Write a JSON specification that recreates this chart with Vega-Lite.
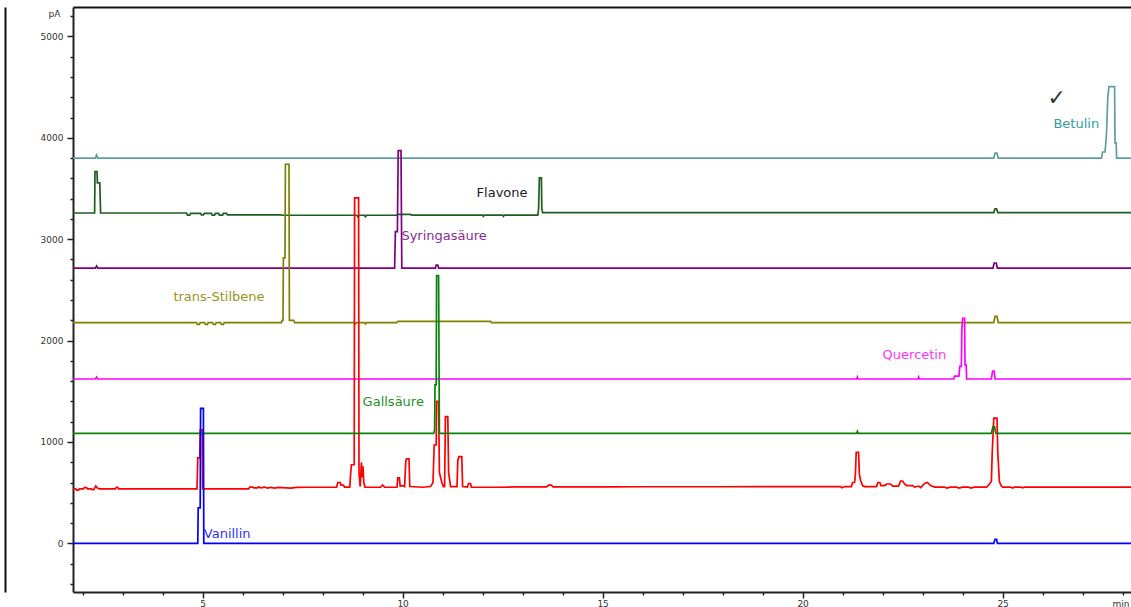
{
  "$schema": "https://vega.github.io/schema/vega-lite/v6.json",
  "width": 1058,
  "height": 585,
  "autosize": {"type": "none"},
  "padding": {"left": 73, "top": 7, "right": 0, "bottom": 15},
  "background": "white",
  "config": {
    "view": {"stroke": null},
    "axis": {"domainColor": "#222", "domainWidth": 2, "tickColor": "#222", "tickWidth": 1.5, "labelFont": "DejaVu Sans", "labelFontSize": 9, "labelColor": "#333", "grid": false, "titleFont": "DejaVu Sans", "titleFontSize": 9, "titleFontWeight": "normal", "titleColor": "#333"}
  },
  "datasets": {
    "traces": [
      {"s":"s1","t":1.76,"v":3800},{"s":"s1","t":2.32,"v":3800},{"s":"s1","t":2.35,"v":3830},{"s":"s1","t":2.38,"v":3800},{"s":"s1","t":24.78,"v":3800},{"s":"s1","t":24.81,"v":3850},{"s":"s1","t":24.86,"v":3850},{"s":"s1","t":24.89,"v":3800},{"s":"s1","t":27.47,"v":3800},{"s":"s1","t":27.5,"v":3860},{"s":"s1","t":27.56,"v":3860},{"s":"s1","t":27.58,"v":3950},{"s":"s1","t":27.6,"v":4060},{"s":"s1","t":27.63,"v":4400},{"s":"s1","t":27.66,"v":4505},{"s":"s1","t":27.8,"v":4505},{"s":"s1","t":27.81,"v":3950},{"s":"s1","t":27.84,"v":3950},{"s":"s1","t":27.85,"v":3800},{"s":"s1","t":28.3,"v":3800},

      {"s":"s2","t":1.76,"v":3258},{"s":"s2","t":2.3,"v":3258},{"s":"s2","t":2.31,"v":3666},{"s":"s2","t":2.36,"v":3666},{"s":"s2","t":2.37,"v":3556},{"s":"s2","t":2.43,"v":3556},{"s":"s2","t":2.45,"v":3258},{"s":"s2","t":4.6,"v":3258},{"s":"s2","t":4.62,"v":3238},{"s":"s2","t":4.68,"v":3238},{"s":"s2","t":4.7,"v":3255},{"s":"s2","t":4.95,"v":3255},{"s":"s2","t":4.97,"v":3240},{"s":"s2","t":5.02,"v":3240},{"s":"s2","t":5.04,"v":3255},{"s":"s2","t":5.22,"v":3255},{"s":"s2","t":5.24,"v":3238},{"s":"s2","t":5.3,"v":3238},{"s":"s2","t":5.32,"v":3255},{"s":"s2","t":5.4,"v":3255},{"s":"s2","t":5.42,"v":3238},{"s":"s2","t":5.5,"v":3238},{"s":"s2","t":5.52,"v":3255},{"s":"s2","t":5.6,"v":3255},{"s":"s2","t":5.62,"v":3240},{"s":"s2","t":5.7,"v":3240},{"s":"s2","t":6.95,"v":3240},{"s":"s2","t":7.0,"v":3236},{"s":"s2","t":8.85,"v":3236},{"s":"s2","t":8.88,"v":3222},{"s":"s2","t":8.92,"v":3236},{"s":"s2","t":9.05,"v":3236},{"s":"s2","t":9.07,"v":3222},{"s":"s2","t":9.1,"v":3236},{"s":"s2","t":9.85,"v":3236},{"s":"s2","t":9.88,"v":3245},{"s":"s2","t":10.2,"v":3245},{"s":"s2","t":10.22,"v":3238},{"s":"s2","t":12.0,"v":3238},{"s":"s2","t":12.02,"v":3225},{"s":"s2","t":12.05,"v":3238},{"s":"s2","t":12.5,"v":3238},{"s":"s2","t":12.52,"v":3225},{"s":"s2","t":12.55,"v":3238},{"s":"s2","t":13.38,"v":3238},{"s":"s2","t":13.4,"v":3300},{"s":"s2","t":13.42,"v":3604},{"s":"s2","t":13.47,"v":3604},{"s":"s2","t":13.48,"v":3300},{"s":"s2","t":13.5,"v":3262},{"s":"s2","t":24.78,"v":3262},{"s":"s2","t":24.81,"v":3300},{"s":"s2","t":24.85,"v":3300},{"s":"s2","t":24.88,"v":3262},{"s":"s2","t":28.3,"v":3262},

      {"s":"s3","t":1.76,"v":2715},{"s":"s3","t":2.32,"v":2715},{"s":"s3","t":2.35,"v":2735},{"s":"s3","t":2.38,"v":2715},{"s":"s3","t":9.8,"v":2715},{"s":"s3","t":9.82,"v":3075},{"s":"s3","t":9.87,"v":3075},{"s":"s3","t":9.89,"v":3873},{"s":"s3","t":9.96,"v":3873},{"s":"s3","t":9.98,"v":2715},{"s":"s3","t":10.82,"v":2715},{"s":"s3","t":10.84,"v":2745},{"s":"s3","t":10.88,"v":2745},{"s":"s3","t":10.9,"v":2715},{"s":"s3","t":24.76,"v":2715},{"s":"s3","t":24.79,"v":2765},{"s":"s3","t":24.84,"v":2765},{"s":"s3","t":24.87,"v":2715},{"s":"s3","t":28.3,"v":2715},

      {"s":"s4","t":1.76,"v":2177},{"s":"s4","t":4.85,"v":2177},{"s":"s4","t":4.87,"v":2160},{"s":"s4","t":4.92,"v":2160},{"s":"s4","t":4.94,"v":2177},{"s":"s4","t":5.05,"v":2177},{"s":"s4","t":5.07,"v":2160},{"s":"s4","t":5.12,"v":2160},{"s":"s4","t":5.14,"v":2177},{"s":"s4","t":5.25,"v":2177},{"s":"s4","t":5.27,"v":2160},{"s":"s4","t":5.32,"v":2160},{"s":"s4","t":5.34,"v":2177},{"s":"s4","t":5.45,"v":2177},{"s":"s4","t":5.47,"v":2160},{"s":"s4","t":5.52,"v":2160},{"s":"s4","t":5.54,"v":2177},{"s":"s4","t":6.97,"v":2177},{"s":"s4","t":6.99,"v":2200},{"s":"s4","t":7.01,"v":2200},{"s":"s4","t":7.02,"v":2815},{"s":"s4","t":7.06,"v":2815},{"s":"s4","t":7.07,"v":3739},{"s":"s4","t":7.16,"v":3739},{"s":"s4","t":7.17,"v":2200},{"s":"s4","t":7.28,"v":2200},{"s":"s4","t":7.3,"v":2177},{"s":"s4","t":8.8,"v":2177},{"s":"s4","t":8.82,"v":2165},{"s":"s4","t":8.86,"v":2177},{"s":"s4","t":9.05,"v":2177},{"s":"s4","t":9.07,"v":2165},{"s":"s4","t":9.1,"v":2177},{"s":"s4","t":9.85,"v":2177},{"s":"s4","t":9.88,"v":2190},{"s":"s4","t":12.2,"v":2190},{"s":"s4","t":12.22,"v":2177},{"s":"s4","t":24.78,"v":2177},{"s":"s4","t":24.81,"v":2240},{"s":"s4","t":24.86,"v":2240},{"s":"s4","t":24.89,"v":2177},{"s":"s4","t":28.3,"v":2177},

      {"s":"s5","t":1.76,"v":1621},{"s":"s5","t":2.32,"v":1621},{"s":"s5","t":2.35,"v":1640},{"s":"s5","t":2.38,"v":1621},{"s":"s5","t":21.35,"v":1621},{"s":"s5","t":21.37,"v":1640},{"s":"s5","t":21.39,"v":1621},{"s":"s5","t":22.88,"v":1621},{"s":"s5","t":22.9,"v":1640},{"s":"s5","t":22.92,"v":1621},{"s":"s5","t":23.78,"v":1621},{"s":"s5","t":23.8,"v":1650},{"s":"s5","t":23.91,"v":1650},{"s":"s5","t":23.93,"v":1745},{"s":"s5","t":23.97,"v":1745},{"s":"s5","t":23.98,"v":2100},{"s":"s5","t":24.0,"v":2220},{"s":"s5","t":24.05,"v":2220},{"s":"s5","t":24.06,"v":1760},{"s":"s5","t":24.09,"v":1760},{"s":"s5","t":24.1,"v":1621},{"s":"s5","t":24.72,"v":1621},{"s":"s5","t":24.75,"v":1700},{"s":"s5","t":24.79,"v":1700},{"s":"s5","t":24.81,"v":1621},{"s":"s5","t":28.3,"v":1621},

      {"s":"s6","t":1.76,"v":537},{"s":"s6","t":1.83,"v":537},{"s":"s6","t":1.85,"v":525},{"s":"s6","t":1.9,"v":525},{"s":"s6","t":1.92,"v":537},{"s":"s6","t":2.02,"v":537},{"s":"s6","t":2.04,"v":550},{"s":"s6","t":2.1,"v":550},{"s":"s6","t":2.12,"v":537},{"s":"s6","t":2.22,"v":537},{"s":"s6","t":2.24,"v":530},{"s":"s6","t":2.28,"v":530},{"s":"s6","t":2.3,"v":545},{"s":"s6","t":2.33,"v":565},{"s":"s6","t":2.37,"v":545},{"s":"s6","t":2.42,"v":537},{"s":"s6","t":2.82,"v":537},{"s":"s6","t":2.84,"v":552},{"s":"s6","t":2.88,"v":552},{"s":"s6","t":2.9,"v":537},{"s":"s6","t":4.86,"v":537},{"s":"s6","t":4.88,"v":843},{"s":"s6","t":4.93,"v":843},{"s":"s6","t":4.94,"v":1120},{"s":"s6","t":4.99,"v":1120},{"s":"s6","t":5.0,"v":537},{"s":"s6","t":6.15,"v":537},{"s":"s6","t":6.18,"v":555},{"s":"s6","t":6.25,"v":555},{"s":"s6","t":6.28,"v":548},{"s":"s6","t":6.38,"v":548},{"s":"s6","t":6.4,"v":558},{"s":"s6","t":6.45,"v":548},{"s":"s6","t":6.55,"v":555},{"s":"s6","t":6.62,"v":545},{"s":"s6","t":6.7,"v":552},{"s":"s6","t":6.8,"v":545},{"s":"s6","t":6.9,"v":552},{"s":"s6","t":7.0,"v":550},{"s":"s6","t":7.2,"v":545},{"s":"s6","t":7.35,"v":552},{"s":"s6","t":7.6,"v":553},{"s":"s6","t":8.35,"v":553},{"s":"s6","t":8.38,"v":600},{"s":"s6","t":8.44,"v":600},{"s":"s6","t":8.46,"v":575},{"s":"s6","t":8.52,"v":575},{"s":"s6","t":8.55,"v":555},{"s":"s6","t":8.68,"v":555},{"s":"s6","t":8.7,"v":680},{"s":"s6","t":8.72,"v":775},{"s":"s6","t":8.79,"v":775},{"s":"s6","t":8.8,"v":3407},{"s":"s6","t":8.9,"v":3407},{"s":"s6","t":8.91,"v":700},{"s":"s6","t":8.94,"v":560},{"s":"s6","t":8.97,"v":800},{"s":"s6","t":8.99,"v":650},{"s":"s6","t":9.01,"v":760},{"s":"s6","t":9.03,"v":600},{"s":"s6","t":9.06,"v":555},{"s":"s6","t":9.45,"v":553},{"s":"s6","t":9.5,"v":575},{"s":"s6","t":9.55,"v":553},{"s":"s6","t":9.86,"v":553},{"s":"s6","t":9.88,"v":645},{"s":"s6","t":9.92,"v":645},{"s":"s6","t":9.94,"v":565},{"s":"s6","t":10.0,"v":570},{"s":"s6","t":10.05,"v":560},{"s":"s6","t":10.08,"v":810},{"s":"s6","t":10.1,"v":833},{"s":"s6","t":10.16,"v":833},{"s":"s6","t":10.18,"v":560},{"s":"s6","t":10.5,"v":553},{"s":"s6","t":10.7,"v":560},{"s":"s6","t":10.76,"v":600},{"s":"s6","t":10.79,"v":970},{"s":"s6","t":10.84,"v":970},{"s":"s6","t":10.85,"v":1400},{"s":"s6","t":10.9,"v":1400},{"s":"s6","t":10.92,"v":700},{"s":"s6","t":10.98,"v":600},{"s":"s6","t":11.02,"v":560},{"s":"s6","t":11.05,"v":560},{"s":"s6","t":11.07,"v":1250},{"s":"s6","t":11.13,"v":1250},{"s":"s6","t":11.15,"v":700},{"s":"s6","t":11.2,"v":560},{"s":"s6","t":11.36,"v":560},{"s":"s6","t":11.38,"v":820},{"s":"s6","t":11.41,"v":855},{"s":"s6","t":11.48,"v":855},{"s":"s6","t":11.5,"v":560},{"s":"s6","t":11.62,"v":555},{"s":"s6","t":11.65,"v":590},{"s":"s6","t":11.7,"v":590},{"s":"s6","t":11.72,"v":555},{"s":"s6","t":12.4,"v":553},{"s":"s6","t":12.8,"v":556},{"s":"s6","t":13.6,"v":556},{"s":"s6","t":13.65,"v":575},{"s":"s6","t":13.72,"v":575},{"s":"s6","t":13.76,"v":556},{"s":"s6","t":14.5,"v":556},{"s":"s6","t":15.2,"v":556},{"s":"s6","t":16.0,"v":558},{"s":"s6","t":17.0,"v":558},{"s":"s6","t":18.0,"v":558},{"s":"s6","t":19.0,"v":560},{"s":"s6","t":20.0,"v":560},{"s":"s6","t":20.95,"v":560},{"s":"s6","t":20.98,"v":548},{"s":"s6","t":21.05,"v":560},{"s":"s6","t":21.22,"v":560},{"s":"s6","t":21.25,"v":600},{"s":"s6","t":21.3,"v":600},{"s":"s6","t":21.32,"v":680},{"s":"s6","t":21.34,"v":898},{"s":"s6","t":21.4,"v":898},{"s":"s6","t":21.42,"v":680},{"s":"s6","t":21.45,"v":620},{"s":"s6","t":21.5,"v":570},{"s":"s6","t":21.55,"v":560},{"s":"s6","t":21.85,"v":560},{"s":"s6","t":21.88,"v":600},{"s":"s6","t":21.93,"v":600},{"s":"s6","t":21.96,"v":570},{"s":"s6","t":22.05,"v":570},{"s":"s6","t":22.1,"v":585},{"s":"s6","t":22.2,"v":585},{"s":"s6","t":22.25,"v":565},{"s":"s6","t":22.4,"v":565},{"s":"s6","t":22.45,"v":615},{"s":"s6","t":22.5,"v":615},{"s":"s6","t":22.55,"v":585},{"s":"s6","t":22.6,"v":570},{"s":"s6","t":22.75,"v":570},{"s":"s6","t":22.8,"v":555},{"s":"s6","t":22.9,"v":565},{"s":"s6","t":22.95,"v":550},{"s":"s6","t":23.05,"v":590},{"s":"s6","t":23.12,"v":600},{"s":"s6","t":23.2,"v":570},{"s":"s6","t":23.3,"v":555},{"s":"s6","t":23.55,"v":555},{"s":"s6","t":23.6,"v":545},{"s":"s6","t":23.7,"v":555},{"s":"s6","t":23.85,"v":555},{"s":"s6","t":23.9,"v":545},{"s":"s6","t":24.0,"v":555},{"s":"s6","t":24.15,"v":555},{"s":"s6","t":24.2,"v":545},{"s":"s6","t":24.3,"v":555},{"s":"s6","t":24.6,"v":555},{"s":"s6","t":24.66,"v":580},{"s":"s6","t":24.72,"v":610},{"s":"s6","t":24.74,"v":890},{"s":"s6","t":24.78,"v":1234},{"s":"s6","t":24.86,"v":1234},{"s":"s6","t":24.88,"v":890},{"s":"s6","t":24.92,"v":610},{"s":"s6","t":24.96,"v":570},{"s":"s6","t":25.0,"v":555},{"s":"s6","t":25.2,"v":555},{"s":"s6","t":25.25,"v":545},{"s":"s6","t":25.3,"v":555},{"s":"s6","t":25.45,"v":555},{"s":"s6","t":25.5,"v":548},{"s":"s6","t":25.55,"v":555},{"s":"s6","t":28.3,"v":555},

      {"s":"s7","t":1.76,"v":1085},{"s":"s7","t":10.78,"v":1085},{"s":"s7","t":10.8,"v":1120},{"s":"s7","t":10.81,"v":1563},{"s":"s7","t":10.84,"v":1563},{"s":"s7","t":10.85,"v":2640},{"s":"s7","t":10.9,"v":2640},{"s":"s7","t":10.92,"v":1085},{"s":"s7","t":21.35,"v":1085},{"s":"s7","t":21.37,"v":1105},{"s":"s7","t":21.39,"v":1085},{"s":"s7","t":24.72,"v":1085},{"s":"s7","t":24.74,"v":1120},{"s":"s7","t":24.76,"v":1150},{"s":"s7","t":24.8,"v":1150},{"s":"s7","t":24.83,"v":1085},{"s":"s7","t":28.3,"v":1085},

      {"s":"s8","t":1.76,"v":0},{"s":"s8","t":4.88,"v":0},{"s":"s8","t":4.89,"v":350},{"s":"s8","t":4.94,"v":350},{"s":"s8","t":4.95,"v":1332},{"s":"s8","t":5.02,"v":1332},{"s":"s8","t":5.03,"v":0},{"s":"s8","t":24.78,"v":0},{"s":"s8","t":24.81,"v":40},{"s":"s8","t":24.85,"v":40},{"s":"s8","t":24.87,"v":0},{"s":"s8","t":28.3,"v":0}
    ],
    "labels": [
      {"k":"Vanillin","label":"Vanillin","t":5.03,"v":90},
      {"k":"Gallsäure","label":"Gallsäure","t":9.0,"v":1398},
      {"k":"Quercetin","label":"Quercetin","t":22.0,"v":1858},
      {"k":"trans-Stilbene","label":"trans-Stilbene","t":4.27,"v":2427},
      {"k":"Syringasäure","label":"Syringasäure","t":9.97,"v":3032},
      {"k":"Flavone","label":"Flavone","t":11.85,"v":3453},
      {"k":"Betulin","label":"Betulin","t":26.27,"v":4136}
    ],
    "marks": [
      {"label":"✓","t":26.35,"v":4390}
    ]
  },
  "layer": [
    {
      "data": {"name": "traces"},
      "mark": {"type": "line", "strokeWidth": 1.7, "clip": true, "interpolate": "linear"},
      "encoding": {
        "x": {"field": "t", "type": "quantitative",
              "scale": {"domain": [1.76, 28.21], "nice": false, "zero": false},
              "axis": {"orient": "bottom", "values": [2,3,4,5,6,7,8,9,10,11,12,13,14,15,16,17,18,19,20,21,22,23,24,25,26,27,28],
                       "labelExpr": "datum.value % 5 === 0 ? datum.label : ''",
                       "tickSize": {"condition": {"test": "datum.value % 5 === 0", "value": 6}, "value": 3},
                       "labelPadding": 1, "labelFlush": false, "labelOverlap": false,
                       "title": "min", "titleAngle": 0, "titleX": 1039, "titleY": 11, "titleAlign": "left", "titleBaseline": "middle", "titleAnchor": null}},
        "y": {"field": "v", "type": "quantitative",
              "scale": {"domain": [-480, 5290], "nice": false, "zero": false},
              "axis": {"orient": "left", "values": [-400,-200,0,200,400,600,800,1000,1200,1400,1600,1800,2000,2200,2400,2600,2800,3000,3200,3400,3600,3800,4000,4200,4400,4600,4800,5000,5200],
                       "labelExpr": "datum.value % 1000 === 0 ? datum.label : ''",
                       "format": "d",
                       "tickSize": {"condition": {"test": "datum.value % 1000 === 0", "value": 6}, "value": 3},
                       "labelPadding": 4, "labelFlush": false, "labelOverlap": false,
                       "title": "pA", "titleAngle": 0, "titleX": -19, "titleY": 6, "titleAlign": "center", "titleBaseline": "middle"}},
        "color": {"field": "s", "type": "nominal", "legend": null,
                  "scale": {"domain": ["s1","s2","s3","s4","s5","s6","s7","s8"],
                            "range": ["#5f9ea0","#1f5c1f","#800080","#808000","#ff00ff","#ff0000","#0a820a","#0000ff"]}},
        "order": {"field": "t", "type": "quantitative"}
      }
    },
    {
      "data": {"name": "labels"},
      "mark": {"type": "text", "font": "DejaVu Sans", "fontSize": 13, "align": "left", "baseline": "middle"},
      "encoding": {
        "x": {"field": "t", "type": "quantitative",
              "axis": {"orient": "top", "labels": false, "ticks": false, "domain": true, "domainColor": "#111", "domainWidth": 2, "title": null}},
        "y": {"field": "v", "type": "quantitative",
              "axis": {"orient": "left", "offset": 68, "labels": false, "ticks": false, "domain": true, "domainColor": "#111", "domainWidth": 2, "title": null}},
        "text": {"field": "label"},
        "color": {"field": "k", "type": "nominal", "legend": null,
                  "scale": {"domain": ["Vanillin","Gallsäure","Quercetin","trans-Stilbene","Syringasäure","Flavone","Betulin"],
                            "range": ["#3030ff","#1f8f1f","#ff33ff","#9a9420","#8b2b9b","#1a1a2e","#2b9fa5"]}}
      }
    },
    {
      "data": {"name": "marks"},
      "mark": {"type": "text", "font": "DejaVu Sans", "fontSize": 22, "align": "center", "baseline": "middle", "color": "#333333"},
      "encoding": {
        "x": {"field": "t", "type": "quantitative", "axis": null},
        "y": {"field": "v", "type": "quantitative", "axis": null},
        "text": {"field": "label"}
      }
    }
  ],
  "resolve": {"axis": {"x": "independent", "y": "independent"}, "scale": {"color": "independent"}}
}
